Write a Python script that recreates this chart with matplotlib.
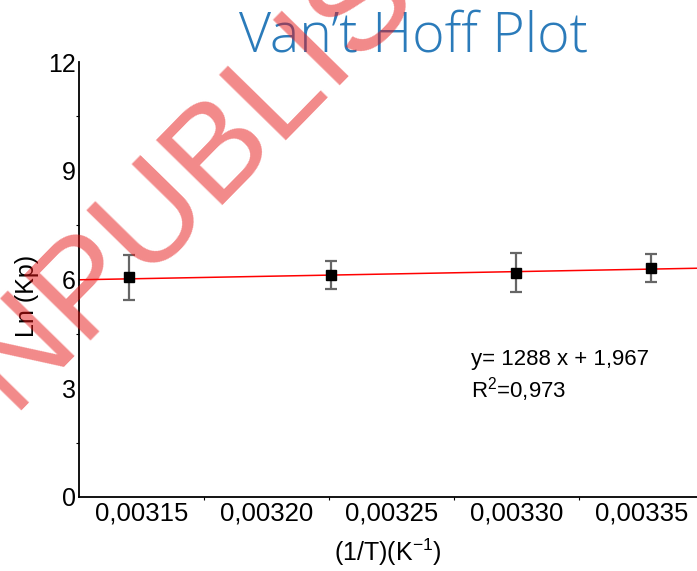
import numpy as np
import matplotlib
matplotlib.use("Agg")
import matplotlib.pyplot as plt
from matplotlib.ticker import FixedLocator, FuncFormatter

plt.rcParams['font.family'] = ['Liberation Sans', 'DejaVu Sans']
plt.rcParams['mathtext.fontset'] = 'custom'
plt.rcParams['mathtext.rm'] = 'Liberation Sans'
plt.rcParams['mathtext.default'] = 'regular'

# data
inv_T = [0.003145, 0.003226, 0.003300, 0.003354]
ln_kp = [6.06, 6.13, 6.19, 6.32]
ln_kp_err = [0.62, 0.39, 0.53, 0.38]

# linear fit shown on the chart
slope = 1288
intercept = 1.967
r2_text = "0,973"

x_ticks = [0.00315, 0.00320, 0.00325, 0.00330, 0.00335]
y_ticks = [0, 3, 6, 9, 12]

W, H = 697, 571
fig = plt.figure(figsize=(W / 100, H / 100), dpi=100)
ax = fig.add_axes([78.7 / W, 74 / H, 625 / W, 435 / H])

ax.set_xlim(0.003125, 0.003375)
ax.set_ylim(0, 12)

xs = np.array(ax.get_xlim())
ax.plot(xs, slope * xs + intercept, color='red', lw=1.1, zorder=2)
ax.errorbar(inv_T, ln_kp, yerr=ln_kp_err, fmt='s', color='black', ms=7,
            ecolor='#666666', elinewidth=1.6, capsize=4.5, capthick=1.6, zorder=3)

for s in ['top', 'right']:
    ax.spines[s].set_visible(False)
for s in ['left', 'bottom']:
    ax.spines[s].set_linewidth(1.3)

ax.xaxis.set_major_locator(FixedLocator(x_ticks))
ax.xaxis.set_minor_locator(FixedLocator([v + 0.000025 for v in x_ticks[:-1]]))
ax.xaxis.set_major_formatter(FuncFormatter(lambda v, p: f"{v:.5f}".replace('.', ',')))
ax.yaxis.set_major_locator(FixedLocator(y_ticks))
ax.yaxis.set_minor_locator(FixedLocator([v + 1.5 for v in y_ticks[:-1]]))

ax.tick_params(axis='x', which='major', length=0, pad=3, labelsize=18.5)
ax.tick_params(axis='y', which='major', length=0, pad=2, labelsize=18)
ax.tick_params(which='minor', length=2.5, width=0.8, direction='out')

fig.text(388 / W, 1 - 552 / H, "(1/T)(K$^{-1}$)", ha='center', va='center', fontsize=18)
fig.text(27 / W, 1 - 296 / H, "Ln (Kp)", rotation=90, ha='center', va='center', fontsize=18)

fig.text(470.7 / W, 1 - 365 / H, f"y= {slope} x + {intercept:.3f}".replace('.', ','),
         ha='left', va='baseline', fontsize=16)
fig.text(470.7 / W, 1 - 398 / H, f"R$^2$={r2_text}", ha='left', va='baseline', fontsize=16)

fig.text(414 / W, 1 - 52 / H, "Van\u2019t Hoff Plot", ha='center', va='baseline',
         fontsize=40, family=['Open Sans', 'DejaVu Sans'], fontweight='light', color='#2b7bba')

# watermark
fig.text(256 / W, 1 - 110 / H, "UNPUBLISHED", rotation=45.6, rotation_mode='anchor',
         ha='center', va='center', fontsize=98, color=(0.9, 0.08, 0.08), alpha=0.5)

fig.savefig("out.png", dpi=100)
